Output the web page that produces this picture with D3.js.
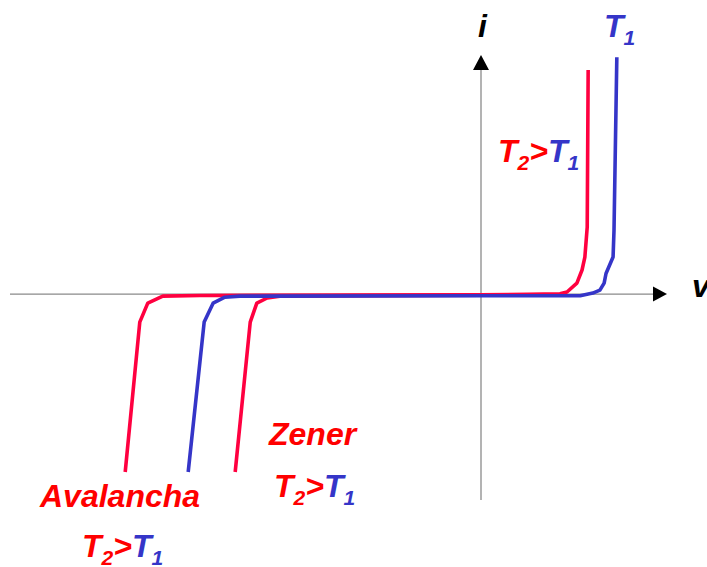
<!DOCTYPE html>
<html>
<head>
<meta charset="utf-8">
<script src="https://cdn.jsdelivr.net/npm/d3@7"></script>
<style>
  body { margin: 0; background: #fff; }
  text { font-family: "Liberation Sans", Arial, sans-serif; font-weight: bold; font-style: italic; }
</style>
</head>
<body>
<div id="chart"></div>
<script>
// diode i-v curves, values in arbitrary units (v, i)
var curveT2 = [ // avalanche + forward, hotter
    [-7.57, -8.64], [-7.26, -1.36], [-7.09, -0.44], [-6.77, -0.10], [-5.98, -0.07],
    [0.00, -0.03], [1.00, -0.01], [1.68, 0.02], [1.83, 0.10], [2.04, 0.53],
    [2.15, 1.17], [2.21, 1.80], [2.26, 3.25], [2.28, 10.88]
];
var curveT1 = [ // avalanche + forward, colder
    [-6.23, -8.64], [-5.89, -1.36], [-5.70, -0.44], [-5.45, -0.15], [-5.13, -0.10],
    [0.00, -0.08], [2.11, -0.08], [2.38, 0.05], [2.53, 0.19], [2.62, 0.53],
    [2.66, 1.00], [2.81, 1.80], [2.83, 3.10], [2.89, 11.50]
];
var curveZener = [
    [-5.23, -8.64], [-4.91, -1.36], [-4.77, -0.44], [-4.55, -0.19], [-4.28, -0.10],
    [0.00, -0.05]
];
var vDomain = [-10, 4];
var iDomain = [-10, 12];

var width = 707, height = 567;
var red = "#ff0040", blue = "#3535c8", textRed = "#ff0000";

var x = d3.scaleLinear().domain(vDomain).range([11, 669]);
var y = d3.scaleLinear().domain(iDomain).range([500, 47]);

var svg = d3.select("#chart").append("svg")
    .attr("width", width)
    .attr("height", height);

// axes
svg.append("line")
    .attr("x1", 10).attr("x2", 656)
    .attr("y1", y(0)).attr("y2", y(0))
    .attr("stroke", "#8a8a8a").attr("stroke-width", 1.3);
svg.append("line")
    .attr("x1", x(0)).attr("x2", x(0))
    .attr("y1", 500).attr("y2", 68)
    .attr("stroke", "#8a8a8a").attr("stroke-width", 1.3);
svg.append("path")
    .attr("d", "M" + 653 + "," + (y(0) - 7.5) + "L667," + y(0) + "L653," + (y(0) + 7.5) + "Z")
    .attr("fill", "#000");
svg.append("path")
    .attr("d", "M" + (x(0) - 8) + ",70L" + x(0) + ",55L" + (x(0) + 8) + ",70Z")
    .attr("fill", "#000");

var line = d3.line()
    .x(function(d) { return x(d[0]); })
    .y(function(d) { return y(d[1]); });

function drawCurve(data, color) {
    svg.append("path")
        .datum(data)
        .attr("d", line)
        .attr("fill", "none")
        .attr("stroke", color)
        .attr("stroke-width", 3.6)
        .attr("stroke-linejoin", "round");
}
drawCurve(curveZener, red);
drawCurve(curveT2, red);
drawCurve(curveT1, blue);

// labels
function tempLabel(px, py) {
    var t = svg.append("text").attr("x", px).attr("y", py).attr("font-size", 32);
    t.append("tspan").attr("fill", textRed).text("T");
    t.append("tspan").attr("fill", textRed).attr("font-size", 21).attr("dy", 8).text("2");
    t.append("tspan").attr("fill", textRed).attr("dy", -8).text(">");
    t.append("tspan").attr("fill", blue).text("T");
    t.append("tspan").attr("fill", blue).attr("font-size", 21).attr("dy", 8).text("1");
}

svg.append("text").attr("x", 478).attr("y", 37).attr("font-size", 32)
    .attr("fill", "#000").text("i");
svg.append("text").attr("x", 692).attr("y", 297).attr("font-size", 32)
    .attr("fill", "#000").text("v");

var t1 = svg.append("text").attr("x", 604).attr("y", 37).attr("font-size", 32).attr("fill", blue);
t1.append("tspan").text("T");
t1.append("tspan").attr("font-size", 21).attr("dy", 8).text("1");

tempLabel(498, 162);

svg.append("text").attr("x", 269).attr("y", 445).attr("font-size", 32)
    .attr("fill", textRed).text("Zener");
tempLabel(274, 497);

svg.append("text").attr("x", 40).attr("y", 507).attr("font-size", 32)
    .attr("fill", textRed).text("Avalancha");
tempLabel(82, 557);
</script>
</body>
</html>
